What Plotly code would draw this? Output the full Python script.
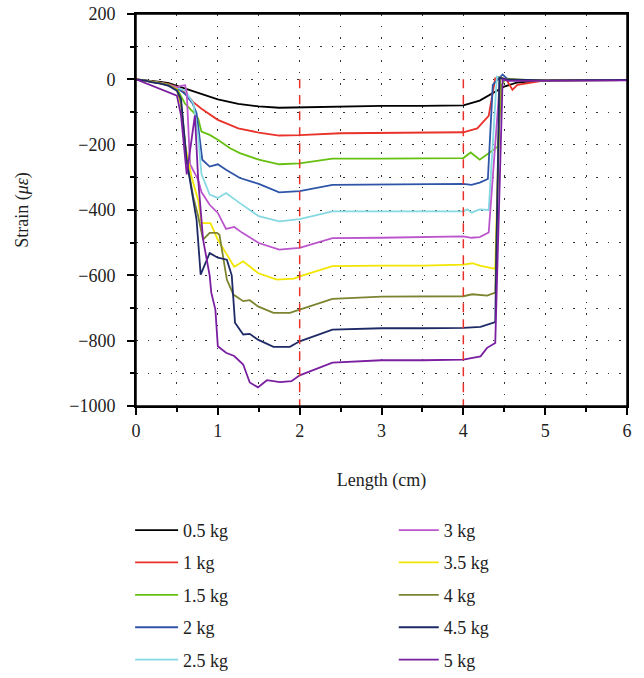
import plotly.graph_objects as go

# ---------------- data ----------------
labels = ["0.5 kg", "1 kg", "1.5 kg", "2 kg", "2.5 kg", "3 kg", "3.5 kg", "4 kg", "4.5 kg", "5 kg"]
colors = ["#000000", "#E8322A", "#66C010", "#2F55A8", "#86D9E2",
          "#BB55CC", "#F2E600", "#7C8430", "#1E2A66", "#7A1FA0"]

len_05 = [0, 0.1, 0.2, 0.3, 0.4, 0.5, 0.6, 0.75, 1.0, 1.25, 1.5, 1.75, 2.0, 2.5, 3.0, 3.5, 4.0, 4.2, 4.35, 4.5, 4.65, 5.0, 5.5, 6.0]
str_05 = [0, -2, -5, -8, -12, -20, -28, -40, -61, -75, -83, -87, -86, -82, -81, -81, -80, -65, -43, -22, -10, -3, -2, -2]

len_1 = [0, 0.1, 0.2, 0.3, 0.4, 0.5, 0.6, 0.7, 0.8, 1.0, 1.25, 1.5, 1.75, 2.0, 2.5, 3.0, 3.5, 4.0, 4.17, 4.31, 4.39, 4.45, 4.53, 4.6, 4.66, 5.0, 5.5, 6.0]
str_1 = [0, -3, -7, -10, -15, -23, -40, -70, -90, -124, -150, -163, -172, -171, -165, -164, -164, -162, -150, -112, 3, 0, -2, -32, -17, -3, -2, -2]

len_15 = [0, 0.1, 0.2, 0.3, 0.4, 0.5, 0.6, 0.7, 0.76, 0.8, 0.9, 1.0, 1.15, 1.27, 1.5, 1.75, 2.0, 2.4, 3.0, 3.5, 4.0, 4.09, 4.2, 4.31, 4.42, 4.47, 4.52, 4.7, 5.0, 5.5, 6.0]
str_15 = [0, -3, -8, -11, -16, -28, -75, -100, -120, -160, -170, -185, -211, -226, -246, -260, -257, -243, -243, -243, -241, -224, -246, -226, -206, -17, 3, -3, -3, -2, -2]

len_2 = [0, 0.1, 0.2, 0.3, 0.4, 0.5, 0.6, 0.69, 0.74, 0.81, 0.9, 1.0, 1.1, 1.27, 1.5, 1.75, 2.0, 2.4, 3.0, 3.5, 4.0, 4.1, 4.2, 4.3, 4.36, 4.48, 4.55, 5.0, 5.5, 6.0]
str_2 = [0, -3, -8, -12, -17, -25, -45, -73, -104, -246, -267, -260, -277, -302, -320, -346, -342, -323, -322, -322, -320, -323, -316, -305, -17, 15, -2, -3, -2, -2]

len_25 = [0, 0.1, 0.2, 0.3, 0.4, 0.5, 0.6, 0.7, 0.76, 0.8, 0.9, 1.0, 1.1, 1.27, 1.5, 1.75, 2.0, 2.4, 3.0, 3.5, 4.0, 4.05, 4.1, 4.2, 4.31, 4.41, 4.5, 5.0, 5.5, 6.0]
str_25 = [0, -3, -8, -12, -17, -25, -35, -73, -175, -290, -353, -363, -348, -379, -419, -435, -428, -404, -404, -404, -404, -398, -408, -398, -400, 8, -2, -3, -2, -2]

len_3 = [0, 0.1, 0.2, 0.3, 0.4, 0.5, 0.55, 0.6, 0.62, 0.66, 0.72, 0.76, 0.8, 0.9, 1.0, 1.1, 1.2, 1.3, 1.5, 1.75, 2.0, 2.4, 3.0, 3.5, 4.0, 4.1, 4.2, 4.31, 4.45, 4.55, 5.0, 5.5, 6.0]
str_3 = [0, -3, -8, -12, -17, -25, -20, -18, -40, -260, -290, -308, -345, -384, -409, -458, -452, -470, -501, -521, -516, -486, -485, -484, -481, -485, -483, -469, 5, -2, -3, -2, -2]

len_35 = [0, 0.1, 0.2, 0.3, 0.4, 0.5, 0.55, 0.6, 0.68, 0.76, 0.8, 0.91, 1.0, 1.1, 1.2, 1.31, 1.49, 1.72, 1.93, 2.0, 2.4, 3.0, 3.5, 4.0, 4.11, 4.2, 4.39, 4.45, 4.52, 5.0, 5.5, 6.0]
str_35 = [0, -3, -8, -12, -18, -30, -80, -200, -300, -370, -440, -440, -491, -532, -574, -557, -593, -613, -610, -603, -572, -570, -570, -567, -563, -570, -580, 5, 0, -3, -2, -2]

len_4 = [0, 0.1, 0.2, 0.3, 0.4, 0.5, 0.55, 0.62, 0.7, 0.76, 0.82, 0.9, 0.99, 1.02, 1.11, 1.19, 1.31, 1.39, 1.49, 1.68, 1.88, 2.0, 2.4, 3.0, 3.5, 4.0, 4.11, 4.29, 4.39, 4.45, 4.52, 5.0, 5.5, 6.0]
str_4 = [0, -3, -8, -12, -18, -32, -70, -250, -360, -420, -491, -470, -470, -476, -613, -659, -679, -676, -695, -715, -715, -705, -672, -665, -665, -664, -658, -662, -653, 5, 0, -3, -2, -2]

len_45 = [0, 0.1, 0.2, 0.3, 0.4, 0.5, 0.55, 0.62, 0.68, 0.74, 0.79, 0.9, 1.0, 1.11, 1.17, 1.21, 1.31, 1.39, 1.49, 1.68, 1.88, 2.0, 2.4, 3.0, 3.5, 4.0, 4.21, 4.39, 4.44, 4.52, 5.0, 5.5, 6.0]
str_45 = [0, -3, -9, -13, -20, -35, -60, -250, -340, -430, -598, -532, -546, -552, -600, -745, -781, -779, -797, -819, -819, -802, -766, -762, -762, -761, -758, -743, 5, 0, -3, -2, -2]

len_5 = [0, 0.1, 0.2, 0.3, 0.4, 0.5, 0.55, 0.62, 0.72, 0.76, 0.82, 0.9, 0.92, 0.94, 0.97, 1.0, 1.1, 1.2, 1.31, 1.39, 1.49, 1.6, 1.76, 1.9, 2.0, 2.4, 3.0, 3.5, 4.0, 4.21, 4.29, 4.39, 4.48, 4.55, 5.0, 5.5, 6.0]
str_5 = [0, -10, -20, -28, -38, -50, -110, -291, -110, -308, -491, -600, -653, -673, -705, -817, -837, -847, -873, -928, -943, -921, -927, -924, -906, -867, -860, -860, -858, -848, -822, -807, 0, -5, -5, -4, -3]

lengths = [len_05, len_1, len_15, len_2, len_25, len_3, len_35, len_4, len_45, len_5]
strains = [str_05, str_1, str_15, str_2, str_25, str_3, str_35, str_4, str_45, str_5]

marker_x = [2, 4]          # red dashed reference lines
marker_y = [0, -1000]

x_range = [0, 6]
y_range = [-1000, 200]

FONT = "Liberation Serif"

fig = go.Figure()

for xv in marker_x:
    fig.add_shape(type="line", xref="x", yref="y", x0=xv, x1=xv,
                  y0=marker_y[0], y1=marker_y[1],
                  line=dict(color="#E8322A", width=1.5, dash="9px,7px"), layer="above")

# plot frame
fig.add_shape(type="rect", xref="paper", yref="paper", x0=0, x1=1, y0=0, y1=1,
              line=dict(color="black", width=1.5), layer="above")

for i, (lab, col, xs, ys) in enumerate(zip(labels, colors, lengths, strains)):
    fig.add_trace(go.Scatter(
        x=xs, y=ys, mode="lines", name=lab,
        line=dict(color=col, width=1.8),
        legend="legend" if i < 5 else "legend2",
        legendgroup=lab,
    ))

grid_style = dict(gridcolor="#333333", gridwidth=1.2, griddash="1.5px,10px")

fig.update_layout(
    width=644, height=678,
    margin=dict(l=136, r=17, t=14, b=272, autoexpand=False),
    paper_bgcolor="white", plot_bgcolor="white",
    font=dict(family=FONT, size=18, color="#222222"),
    xaxis=dict(
        range=x_range, dtick=1, tick0=0, automargin=False,
        showline=True, linecolor="black", linewidth=2, mirror=True,
        ticks="outside", ticklen=7, tickwidth=2, tickcolor="black",
        showgrid=True, **grid_style,
        minor=dict(dtick=0.5, ticks="outside", ticklen=4, tickwidth=2, tickcolor="black",
                   showgrid=True, **grid_style),
        zeroline=False,
        title=dict(text="Length (cm)", standoff=34, font=dict(size=18)),
        tickfont=dict(size=18),
        ticklabeloverflow="allow",
    ),
    yaxis=dict(
        range=y_range, dtick=200, tick0=0, automargin=False,
        showline=True, linecolor="black", linewidth=2, mirror=True,
        ticks="outside", ticklen=7, tickwidth=2, tickcolor="black",
        showgrid=True, **grid_style,
        minor=dict(dtick=100, ticks="outside", ticklen=4, tickwidth=2, tickcolor="black",
                   showgrid=True, **grid_style),
        zeroline=False,
        title=dict(text="Strain (<i>με</i>)", standoff=36, font=dict(size=18)),
        tickfont=dict(size=18),
        ticklabelstandoff=8,
        ticklabeloverflow="allow",
    ),
    legend=dict(x=-0.012, y=-0.27, xanchor="left", yanchor="top", itemwidth=43,
                font=dict(size=18), tracegroupgap=6, bgcolor="rgba(0,0,0,0)"),
    legend2=dict(x=0.525, y=-0.27, xanchor="left", yanchor="top", itemwidth=40,
                 font=dict(size=18), tracegroupgap=6, bgcolor="rgba(0,0,0,0)"),
)

fig.write_html(
    "out.html",
    config={"displayModeBar": False},
    post_script="document.body.style.margin='0';document.body.style.overflow='hidden';",
)
